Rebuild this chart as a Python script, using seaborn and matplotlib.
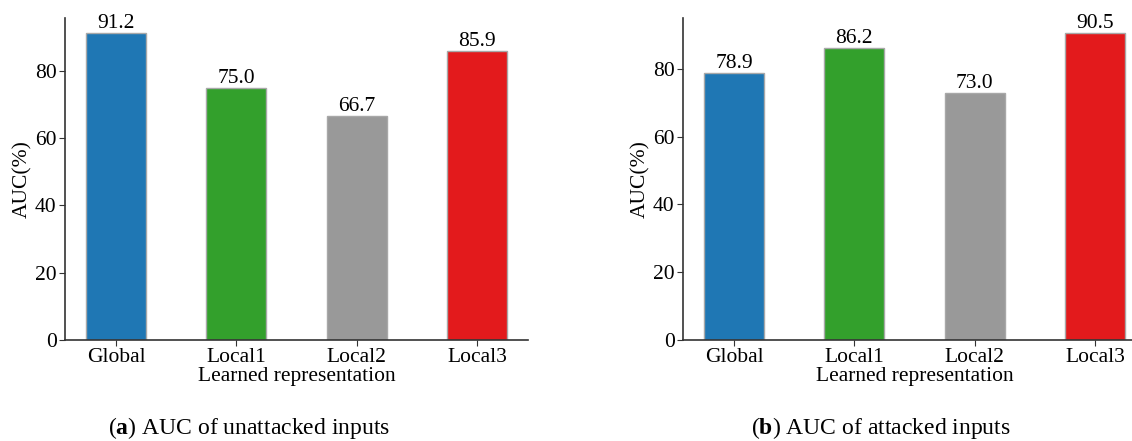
import matplotlib
matplotlib.use("Agg")
import matplotlib.pyplot as plt
import seaborn as sns
import pandas as pd

# data
categories = ["Global", "Local1", "Local2", "Local3"]
auc_unattacked = [91.2, 75.0, 66.7, 85.9]
auc_attacked = [78.9, 86.2, 73.0, 90.5]
bar_colors = ["#1f77b4", "#33a02c", "#999999", "#e31a1c"]
captions = [("a", "AUC of unattacked inputs"), ("b", "AUC of attacked inputs")]

sns.set_style("ticks")
plt.rcParams["font.family"] = ["Liberation Serif", "DejaVu Serif"]
plt.rcParams["mathtext.fontset"] = "custom"
plt.rcParams["mathtext.rm"] = "Liberation Serif"
plt.rcParams["mathtext.bf"] = "Liberation Serif:bold"
plt.rcParams["text.color"] = "black"
plt.rcParams["axes.labelcolor"] = "black"
plt.rcParams["xtick.labelcolor"] = "black"
plt.rcParams["ytick.labelcolor"] = "black"

fig = plt.figure(figsize=(11.32, 4.41), dpi=100)
ax_a = fig.add_axes([65 / 1132, 101 / 441, 463 / 1132, 322 / 441])
ax_b = fig.add_axes([683 / 1132, 101 / 441, 463 / 1132, 322 / 441])

for ax, vals, (tag, text), cx in zip([ax_a, ax_b], [auc_unattacked, auc_attacked],
                                     captions, [249 / 1132, 881 / 1132]):
    df = pd.DataFrame({"rep": categories, "auc": vals})
    sns.barplot(data=df, x="rep", y="auc", hue="rep", palette=bar_colors,
                saturation=1, legend=False, width=0.5, edgecolor="#a8a8a8",
                linewidth=1, ax=ax)
    for cont in ax.containers:
        ax.bar_label(cont, fmt="%.1f", fontsize=15.5, padding=0)
    ax.set_xlim(-0.425, 3.425)
    ax.set_ylim(0, max(vals) * 1.05)
    ax.set_yticks([0, 20, 40, 60, 80])
    ax.set_xlabel("Learned representation", fontsize=15.5, labelpad=0)
    ax.set_ylabel("AUC(%)", fontsize=15.5, labelpad=2)
    ax.tick_params(labelsize=15.5, color="#333333", length=4, pad=2)
    for s in ["left", "bottom"]:
        ax.spines[s].set_color("#333333")
        ax.spines[s].set_linewidth(1.2)
    sns.despine(ax=ax)
    fig.text(cx, 0.03, rf"($\mathbf{{{tag}}}$) {text}", ha="center", va="center",
             fontsize=17)

fig.savefig("out.png", dpi=100)
